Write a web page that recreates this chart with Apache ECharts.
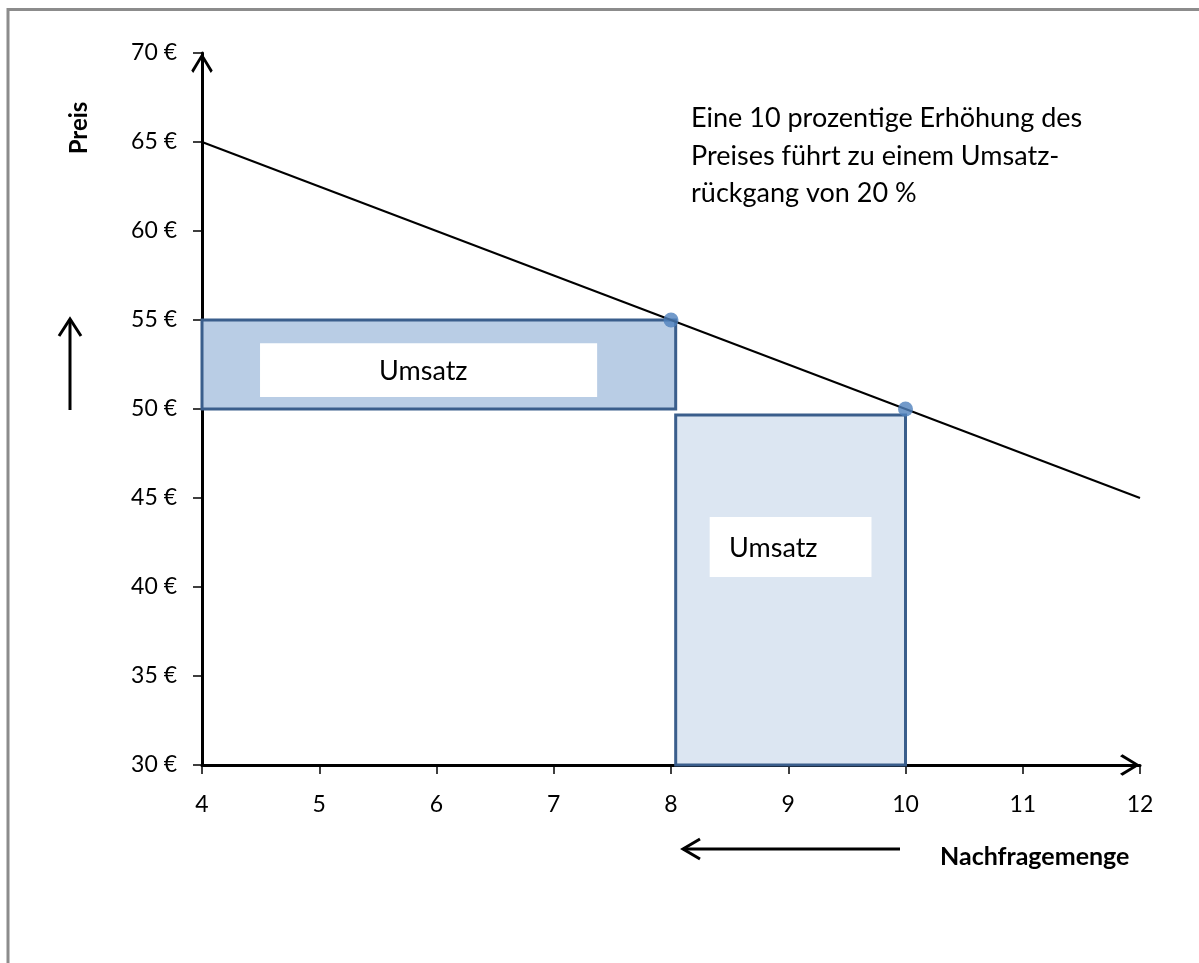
<!DOCTYPE html>
<html><head><meta charset="utf-8">
<script src="https://cdn.jsdelivr.net/npm/echarts@6/dist/echarts.min.js"></script>
<style>html,body{margin:0;padding:0;background:#fff}#c{width:1199px;height:963px}</style>
</head><body><div id="c"></div>
<script>
// ---- data ----
const xMin = 4, xMax = 12, xStep = 1;
const yMin = 30, yMax = 70, yStep = 5;
const demandLine = [[4, 65], [12, 45]];
const pricePoints = [[8, 55], [10, 50]];
const revenueAreas = [[4, 8.04, 50, 55], [8.04, 10, 30, 49.66]];
const labelBoxes = [[4.495, 7.37, 50.67, 53.7], [8.33, 9.71, 40.56, 43.93]];
const labelTexts = [[5.51, 52.1, 'Umsatz'], [8.495, 42.2, 'Umsatz']];
const noteLines = ['Eine 10 prozentige Erhöhung des', 'Preises führt zu einem Umsatz-', 'rückgang von 20 %'];
const yAxisTitle = 'Preis';
const xAxisTitle = 'Nachfragemenge';

// ---- styles ----
const FONT = 'Lato';
const areaFills = ['#b9cde5', '#dce6f2'];
const chevron = 'path://M0,0 L11,18 L9,20.5 L0,5.5 L-9,20.5 L-11,18 Z';

const chart = echarts.init(document.getElementById('c'), null, {renderer: 'canvas'});

const axisCommon = {
  type: 'value',
  axisLine: {
    show: true, onZero: false,
    lineStyle: {color: '#000', width: 3},
    symbol: ['none', chevron], symbolSize: [22, 20], symbolOffset: [0, -10]
  },
  axisTick: {show: true, inside: false, length: 9, lineStyle: {color: '#000', width: 1.5}},
  splitLine: {show: false},
};

chart.setOption({
  animation: false,
  backgroundColor: '#fff',
  grid: {left: 202, right: 59, top: 53, bottom: 198, containLabel: false},
  xAxis: Object.assign({}, axisCommon, {
    min: xMin, max: xMax, interval: xStep,
    axisLabel: {color: '#000', fontSize: 23, fontFamily: FONT, margin: 28}
  }),
  yAxis: Object.assign({}, axisCommon, {
    min: yMin, max: yMax, interval: yStep,
    axisLabel: {color: '#000', fontSize: 23, fontFamily: FONT, margin: 25, formatter: '{value} €'}
  }),
  series: [
    {
      type: 'custom', z: 2, clip: false,
      data: revenueAreas,
      encode: {x: [0, 1], y: [2, 3]},
      renderItem: function (params, api) {
        const p0 = api.coord([api.value(0), api.value(3)]);
        const p1 = api.coord([api.value(1), api.value(2)]);
        return {
          type: 'rect',
          shape: {x: p0[0], y: p0[1], width: p1[0] - p0[0], height: p1[1] - p0[1]},
          style: {fill: areaFills[params.dataIndex], stroke: '#3a5e8c', lineWidth: 3}
        };
      }
    },
    {
      type: 'custom', z: 3, clip: false,
      data: labelBoxes,
      encode: {x: [0, 1], y: [2, 3]},
      renderItem: function (params, api) {
        const p0 = api.coord([api.value(0), api.value(3)]);
        const p1 = api.coord([api.value(1), api.value(2)]);
        return {
          type: 'rect',
          shape: {x: p0[0], y: p0[1], width: p1[0] - p0[0], height: p1[1] - p0[1]},
          style: {fill: '#fff'}
        };
      }
    },
    {
      type: 'custom', z: 4, clip: false,
      data: labelTexts.map(d => [d[0], d[1]]),
      encode: {x: 0, y: 1},
      renderItem: function (params, api) {
        const p = api.coord([api.value(0), api.value(1)]);
        return {
          type: 'text',
          x: p[0], y: p[1],
          style: {text: labelTexts[params.dataIndex][2], fill: '#000', font: '27px ' + FONT, align: 'left', verticalAlign: 'middle'}
        };
      }
    },
    {
      type: 'line', z: 5, data: demandLine, symbol: 'none',
      lineStyle: {color: '#000', width: 2}
    },
    {
      type: 'scatter', z: 6, data: pricePoints, symbolSize: 15,
      itemStyle: {color: '#4f81bd'}
    }
  ],
  graphic: [
    {type: 'rect', shape: {x: 8, y: 9.5, width: 1400, height: 1200}, style: {fill: 'none', stroke: '#8c8c8c', lineWidth: 3}, z: 0, silent: true},
    {type: 'text', x: 691, y: 156, style: {text: noteLines.join('\n'), font: '27px ' + FONT, fill: '#000', lineHeight: 37.5, verticalAlign: 'middle', align: 'left'}},
    {type: 'text', x: 79, y: 128, rotation: Math.PI / 2, style: {text: yAxisTitle, font: 'bold 24px ' + FONT, fill: '#000', align: 'center', verticalAlign: 'middle'}},
    {type: 'text', x: 940, y: 857, style: {text: xAxisTitle, font: 'bold 25px ' + FONT, fill: '#000', align: 'left', verticalAlign: 'middle'}},
    {type: 'polyline', shape: {points: [[70, 410], [70, 319]]}, style: {stroke: '#000', lineWidth: 3}},
    {type: 'polyline', shape: {points: [[59, 336], [70, 319], [81, 336]]}, style: {stroke: '#000', lineWidth: 3, fill: 'none'}},
    {type: 'polyline', shape: {points: [[900, 849], [683, 849]]}, style: {stroke: '#000', lineWidth: 3}},
    {type: 'polyline', shape: {points: [[700, 839], [683, 849], [700, 859]]}, style: {stroke: '#000', lineWidth: 3, fill: 'none'}}
  ]
});
</script>
</body></html>
